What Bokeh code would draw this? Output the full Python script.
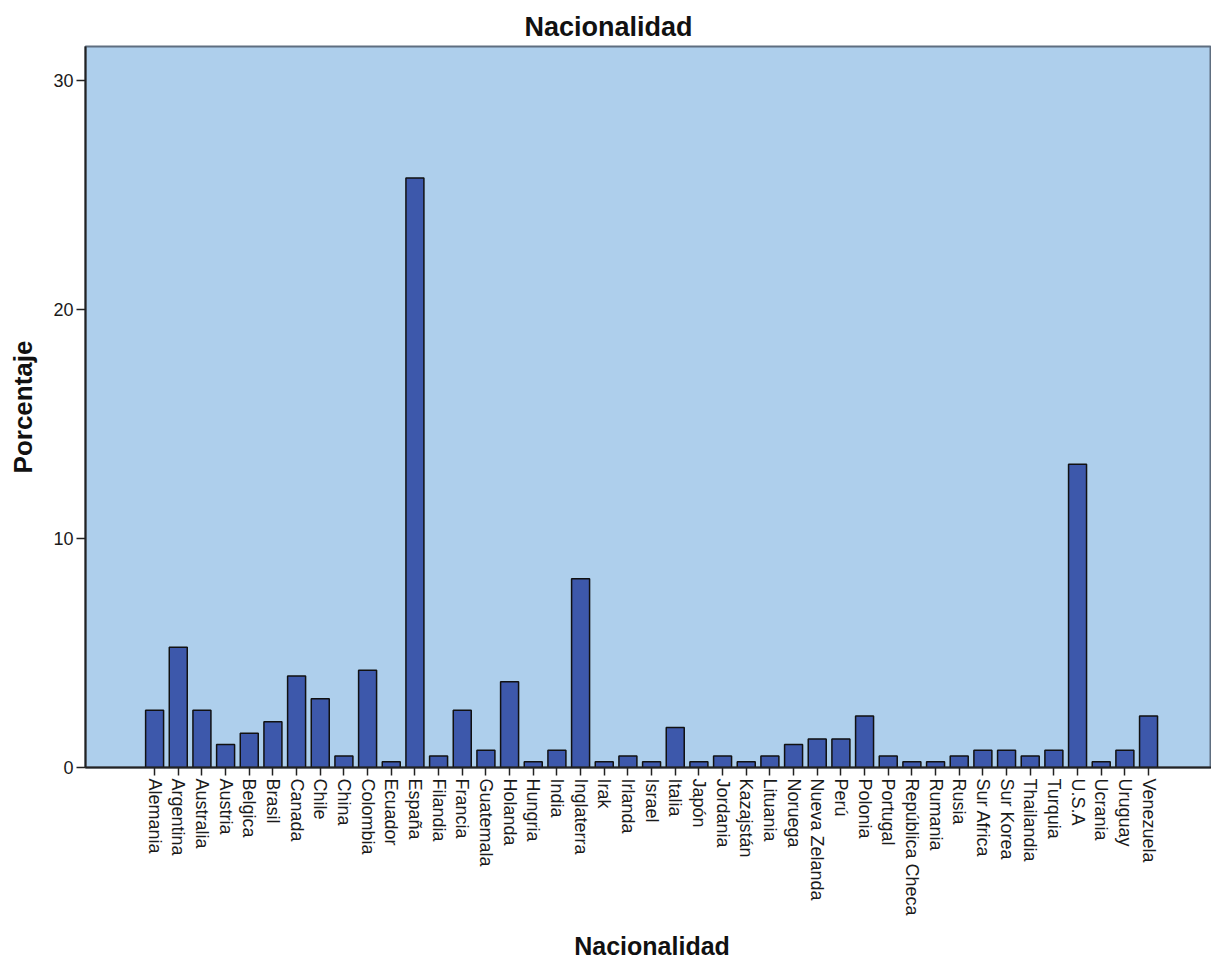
import math
from bokeh.plotting import figure
from bokeh.models import ColumnDataSource, Range1d, FixedTicker
from bokeh.layouts import column
from bokeh.core.properties import value
from bokeh.embed import file_html
from bokeh.resources import INLINE

paises = ["Alemania", "Argentina", "Australia", "Austria", "Belgica", "Brasil",
          "Canada", "Chile", "China", "Colombia", "Ecuador", "España", "Filandia",
          "Francia", "Guatemala", "Holanda", "Hungria", "India", "Inglaterra",
          "Irak", "Irlanda", "Israel", "Italia", "Japón", "Jordania", "Kazajstán",
          "Lituania", "Noruega", "Nueva Zelanda", "Perú", "Polonia", "Portugal",
          "República Checa", "Rumania", "Rusia", "Sur Africa", "Sur Korea",
          "Thailandia", "Turquia", "U.S.A", "Ucrania", "Uruguay", "Venezuela"]
porcentaje = [2.5, 5.25, 2.5, 1.0, 1.5, 2.0,
              4.0, 3.0, 0.5, 4.25, 0.25, 25.75, 0.5,
              2.5, 0.75, 3.75, 0.25, 0.75, 8.25,
              0.25, 0.5, 0.25, 1.75, 0.25, 0.5, 0.25,
              0.5, 1.0, 1.25, 1.25, 2.25, 0.5,
              0.25, 0.25, 0.5, 0.75, 0.75,
              0.5, 0.75, 13.25, 0.25, 0.75, 2.25]
y_ticks = [0, 10, 20, 30]
titulo = "Nacionalidad"
eje_x = "Nacionalidad"
eje_y = "Porcentaje"

FONT = "Liberation Sans"

idx = list(range(len(paises)))
src = ColumnDataSource(dict(x=idx, top=porcentaje, name=paises))

X0, X1 = -2.92, 44.66
xr = Range1d(X0, X1)
p = figure(width=1211, height=926, output_backend="svg", toolbar_location=None,
           x_range=xr, y_range=Range1d(0, 31.5),
           min_border_left=85, min_border_right=0, min_border_top=46,
           min_border_bottom=159)

p.vbar(x="x", top="top", width=0.76, source=src,
       fill_color="#3D58AB", line_color="#111111", line_width=1.5)

p.background_fill_color = "#AECFEC"
p.border_fill_color = "white"
p.outline_line_color = "#5E6E80"
p.outline_line_width = 2
p.xgrid.visible = False
p.ygrid.visible = False

# title
p.title.text = titulo
p.title.align = "left"
p.title.text_font = FONT
p.title.text_font_size = "27px"
p.title.text_font_style = "bold"
p.title.text_color = "#111111"
p.title.offset = 439
p.title.standoff = 9

# x axis
xa = p.xaxis[0]
xa.ticker = FixedTicker(ticks=idx)
xa.major_label_overrides = {i: n for i, n in zip(idx, paises)}
xa.major_label_orientation = -math.pi / 2
xa.major_label_text_font = FONT
xa.major_label_text_font_size = "18px"
xa.major_label_text_color = "#1a1a1a"
xa.major_label_standoff = 3
xa.major_tick_out = 8
xa.major_tick_in = 0
xa.minor_tick_line_color = None
xa.major_tick_line_color = "#222222"
xa.major_tick_line_width = 1.5
xa.axis_line_color = "#222222"
xa.axis_line_width = 2

# y axis
ya = p.yaxis[0]
ya.ticker = FixedTicker(ticks=y_ticks)
ya.major_label_text_font = FONT
ya.major_label_text_font_size = "18px"
ya.major_label_text_color = "#1a1a1a"
ya.major_label_standoff = 3
ya.major_tick_out = 9
ya.major_tick_in = 0
ya.minor_tick_line_color = None
ya.major_tick_line_color = "#222222"
ya.major_tick_line_width = 1.5
ya.axis_line_color = "#222222"
ya.axis_line_width = 2
ya.axis_label = eje_y
ya.axis_label_text_font = FONT
ya.axis_label_text_font_size = "26px"
ya.axis_label_text_font_style = "bold"
ya.axis_label_text_color = "#111111"
ya.axis_label_standoff = 12

# strip below holding the x-axis title (shares the x range)
p2 = figure(width=1211, height=30, output_backend="svg", toolbar_location=None,
            x_range=xr, y_range=Range1d(0, 30),
            x_axis_location=None, y_axis_location=None,
            min_border_left=85, min_border_right=0, min_border_top=0,
            min_border_bottom=0)
p2.outline_line_color = None
p2.background_fill_color = "white"
p2.border_fill_color = "white"
p2.xgrid.visible = False
p2.ygrid.visible = False
p2.text(x=[(X0 + X1) / 2 + 0.15], y=[11], text=[eje_x],
        text_font=value(FONT), text_font_size="25px", text_font_style="bold",
        text_color="#111111", text_align="center", text_baseline="alphabetic")

layout = column(p, p2, spacing=0)
open("out.html", "w").write(file_html(layout, INLINE))
